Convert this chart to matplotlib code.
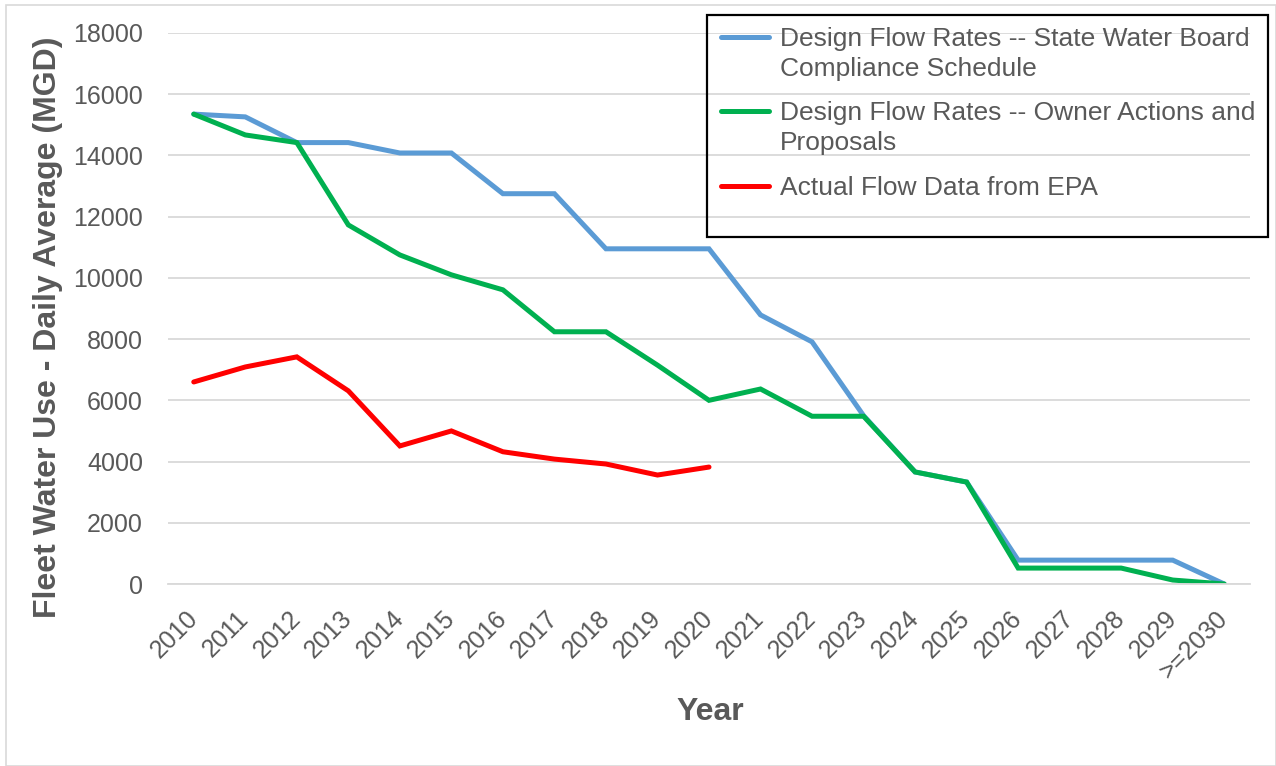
import numpy as np
import matplotlib.pyplot as plt
from matplotlib.patches import Rectangle
from matplotlib.lines import Line2D

plt.rcParams['font.family'] = ['Liberation Sans', 'DejaVu Sans']

# categories on the x axis
years = ['2010', '2011', '2012', '2013', '2014', '2015', '2016', '2017', '2018', '2019',
         '2020', '2021', '2022', '2023', '2024', '2025', '2026', '2027', '2028', '2029', '>=2030']

# State Water Board compliance schedule (MGD)
state_board = [15350, 15260, 14420, 14420, 14080, 14080, 12750, 12750, 10950, 10950,
               10950, 8790, 7910, 5500, 3660, 3330, 780, 780, 780, 780, 0]

# Owner actions and proposals (MGD)
owner_actions = [15350, 14670, 14420, 11730, 10750, 10100, 9610, 8240, 8240, 7150,
                 6000, 6370, 5480, 5480, 3660, 3330, 520, 520, 520, 130, 0]

# Actual flow data from EPA, 2010-2020 (MGD)
epa_actual = [6600, 7090, 7420, 6310, 4510, 5000, 4320, 4080, 3920, 3560, 3820]

labels = ['Design Flow Rates -- State Water Board\nCompliance Schedule',
          'Design Flow Rates -- Owner Actions and\nProposals',
          'Actual Flow Data from EPA']
colors = ['#5B9BD5', '#00B050', '#FF0000']

txt = '#595959'
W, H = 1276, 766

fig = plt.figure(figsize=(W / 100, H / 100), dpi=100)
ax = fig.add_axes([168 / W, 1 - 584 / H, 1082 / W, 551 / H])

x = np.arange(len(years))
series = [state_board, owner_actions, epa_actual]
for vals, c in zip(series, colors):
    ax.plot(x[:len(vals)], vals, color=c, lw=3.6, solid_capstyle='round',
            solid_joinstyle='miter')

ax.set_xlim(-0.5, len(years) - 0.5)
ax.set_ylim(0, 18000)
ax.set_yticks(np.arange(0, 18001, 2000))
ax.yaxis.grid(True, color='#D9D9D9', lw=1.3)
ax.set_axisbelow(True)
for s in ['top', 'right', 'left']:
    ax.spines[s].set_visible(False)
ax.spines['bottom'].set_color('#D9D9D9')
ax.spines['bottom'].set_linewidth(1.3)
ax.tick_params(length=0, labelsize=18, labelcolor=txt)
ax.tick_params(axis='y', pad=18)
ax.tick_params(axis='x', pad=22)
ax.set_xticks(x)
ax.set_xticklabels(years, rotation=45, ha='right', va='center', rotation_mode='anchor')

ax.set_ylabel('Fleet Water Use - Daily Average (MGD)', fontsize=23, fontweight='bold',
              color=txt, va='center')
ax.yaxis.set_label_coords((48 - 168) / 1082, (584 - 327) / 551)
ax.set_xlabel('Year', fontsize=23, fontweight='bold', color=txt, va='center')
ax.xaxis.set_label_coords((710 - 168) / 1082, (584 - 712) / 551)

# legend, drawn by hand so each handle sits on the first line of its label
fig.patches.append(Rectangle((707 / W, 1 - 237 / H), 561 / W, 222 / H,
                             transform=fig.transFigure, fill=False,
                             edgecolor='black', lw=1.6, zorder=5))
for lab, c, yc in zip(labels, colors, [37, 111, 186]):
    fig.lines.append(Line2D([721 / W, 769 / W], [1 - yc / H, 1 - yc / H],
                            transform=fig.transFigure, color=c, lw=3.6,
                            solid_capstyle='round'))
    fig.text(780 / W, 1 - (yc - 10) / H, lab, fontsize=19, color=txt,
             ha='left', va='top', linespacing=1.33)

fig.patches.append(Rectangle((6 / W, 0), 1 - 6 / W, 1 - 5 / H,
                             transform=fig.transFigure, fill=False,
                             edgecolor='#D9D9D9', lw=1.2))

fig.savefig('out.png', dpi=100)
